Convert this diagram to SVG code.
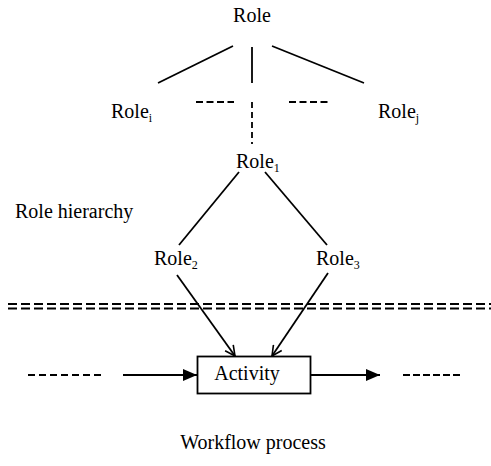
<svg xmlns="http://www.w3.org/2000/svg" width="491" height="466" viewBox="0 0 491 466">
<defs>
<style>
text{font-family:"Liberation Serif","Times New Roman",serif;font-size:20px;fill:#000}
.sub{font-size:12px}
.ln{stroke:#000;stroke-width:1.8;fill:none}
.dsh{stroke:#000;stroke-width:1.8;fill:none;stroke-dasharray:7 3.5}
.dd{stroke:#000;stroke-width:2;fill:none;stroke-dasharray:9 4}
</style>
<marker id="open" viewBox="0 0 12 12" refX="11" refY="6" markerWidth="12" markerHeight="12" markerUnits="userSpaceOnUse" orient="auto">
<path d="M1,1 L11,6 L1,11" fill="none" stroke="#000" stroke-width="1.6"/>
</marker>
<marker id="fill" viewBox="0 0 14 12" refX="14" refY="6" markerWidth="14" markerHeight="12" markerUnits="userSpaceOnUse" orient="auto">
<path d="M0,0 L14,6 L0,12 Z" fill="#000"/>
</marker>
</defs>
<rect width="491" height="466" fill="#fff"/>
<g id="connectors">
<line class="ln" x1="233" y1="46" x2="158" y2="83"/>
<line class="ln" x1="252" y1="47" x2="252" y2="83"/>
<line class="ln" x1="272" y1="46" x2="364" y2="83"/>
<line class="dsh" x1="196" y1="102" x2="234" y2="102"/>
<line class="dsh" x1="289" y1="102" x2="328" y2="102"/>
<line class="dsh" x1="252" y1="102" x2="252" y2="144" style="stroke-dasharray:6 4"/>
<line class="ln" x1="239" y1="172" x2="179" y2="245"/>
<line class="ln" x1="265" y1="172" x2="327" y2="245"/>
<line class="ln" x1="177" y1="275" x2="235" y2="356" marker-end="url(#open)"/>
<line class="ln" x1="328" y1="273" x2="272" y2="356" marker-end="url(#open)"/>
<line class="dsh" x1="28" y1="375" x2="104" y2="375" style="stroke-dasharray:7 4"/>
<line class="ln" x1="123" y1="375" x2="197" y2="375" marker-end="url(#fill)"/>
<line class="ln" x1="311" y1="375" x2="380" y2="375" marker-end="url(#fill)"/>
<line class="dsh" x1="403" y1="375" x2="462" y2="375" style="stroke-dasharray:7 3"/>
</g>
<g id="separator">
<line class="dd" x1="8" y1="304" x2="491" y2="304"/>
<line class="dd" x1="8" y1="308.5" x2="491" y2="308.5"/>
</g>
<g id="role"><text x="252" y="22" text-anchor="middle">Role</text></g>
<g id="role-i"><text x="111" y="118">Role<tspan class="sub" dy="4">i</tspan></text></g>
<g id="role-j"><text x="378" y="118">Role<tspan class="sub" dy="4">j</tspan></text></g>
<g id="role-1"><text x="236" y="168">Role<tspan class="sub" dy="4">1</tspan></text></g>
<g id="role-2"><text x="154" y="265">Role<tspan class="sub" dy="4">2</tspan></text></g>
<g id="role-3"><text x="316" y="265">Role<tspan class="sub" dy="4">3</tspan></text></g>
<g id="role-hierarchy"><text x="15" y="218">Role hierarchy</text></g>
<g id="activity">
<rect x="197.5" y="356.5" width="113" height="37" fill="#fff" stroke="#000" stroke-width="1.8"/>
<text x="247" y="380" text-anchor="middle">Activity</text>
</g>
<g id="workflow-process"><text x="253" y="449" text-anchor="middle">Workflow process</text></g>
</svg>
